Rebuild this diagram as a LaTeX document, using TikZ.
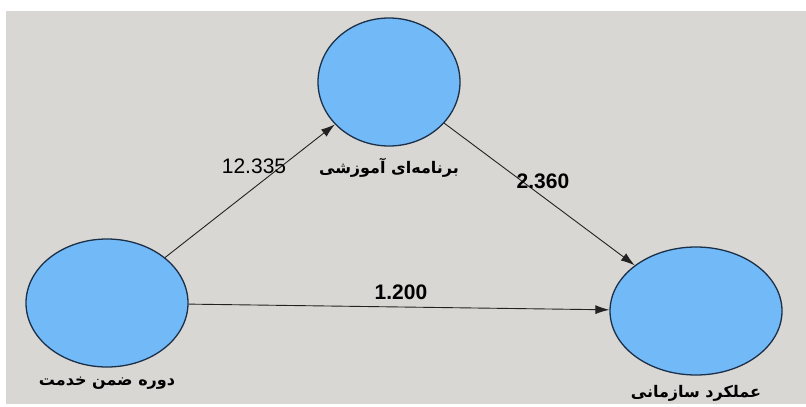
\documentclass[tikz,border=0pt]{standalone}
\usepackage{fontspec}
\setmainfont{Liberation Sans}
\newfontfamily\farsifont[Script=Arabic]{DejaVu Sans}
\TeXXeTstate=1
\usetikzlibrary{positioning,shapes.geometric,arrows.meta}
\definecolor{canvas}{HTML}{D9D7D4}
\definecolor{bubble}{HTML}{72B9F7}
\definecolor{rim}{HTML}{1B3048}
\definecolor{wire}{HTML}{222222}

\begin{document}
\begin{tikzpicture}[
    x=1pt, y=-1pt,
    construct/.style={ellipse, draw=rim, line width=1.3pt, fill=bubble, inner sep=0pt},
    caption/.style={font=\farsifont\bfseries\fontsize{16}{18}\selectfont, text=black, inner sep=0pt},
    coef/.style={font=\fontsize{21}{24}\selectfont\bfseries, text=black, inner sep=0pt},
    path/.style={-{Latex[length=14pt,width=9pt]}, line width=0.9pt, draw=wire},
  ]

  % ------------------------------------------------------------- backdrop
  \useasboundingbox (0,0) rectangle (806,407);
  \fill[canvas] (6,11) rectangle (806,404);

  % ------------------------------------------------------------- constructs
  \node[construct, minimum width=162pt, minimum height=128pt] (training) at (107,303) {};
  \node[construct, minimum width=142pt, minimum height=128pt] (program) at (389,82) {};
  \node[construct, minimum width=172pt, minimum height=128pt] (performance) at (696,311) {};

  % ------------------------------------------------------------- captions
  \node[caption, below=9pt of training] (ltraining) {\beginR دوره ضمن خدمت\endR};
  \node[caption, below=11pt of program] (lprogram) {\beginR برنامه‌ای آموزشی\endR};
  \node[caption, below=9pt of performance] (lperformance) {\beginR عملکرد سازمانی\endR};

  % ------------------------------------------------------------- paths
  \draw[path] (training) -- (program);
  \draw[path] (program) -- (performance);
  \draw[path] (training) -- (performance);

  % ------------------------------------------------------------- coefficients
  \node[coef, font=\fontsize{21}{24}\selectfont] (c1) at (254,166) {12.335};
  \node[coef] (c2) at (543,181) {2.360};
  \node[coef] (c3) at (401,292) {1.200};
\end{tikzpicture}
\end{document}
